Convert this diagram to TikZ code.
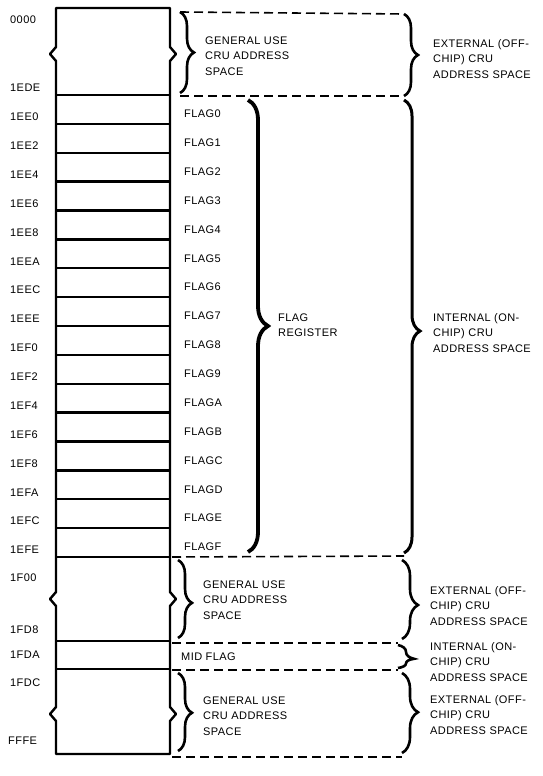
\documentclass[tikz,border=0pt]{standalone}
\usepackage{fontspec}
\setmainfont{Liberation Sans}[LetterSpace=4]
\usetikzlibrary{decorations.pathreplacing}
\tikzset{
  mem/.style={line width=2.4pt, line join=round},
  dashln/.style={line width=1.6pt, dash pattern=on 9pt off 5pt},
  brc/.style={decorate, line width=2.6pt},
  lbl/.style={anchor=west, inner sep=0pt, font=\fontsize{11}{15.5}\selectfont, align=left},
}
\begin{document}
\begin{tikzpicture}[x=1pt,y=-1pt]
\useasboundingbox (0,0) rectangle (542,776);
% memory column outline with break marks
\draw[mem] (56,8) -- (170,8) -- (170,47) -- (176,54) -- (170,61)
  -- (170,592) -- (176,599) -- (170,606) -- (170,707) -- (176,714) -- (170,721)
  -- (170,754) -- (56,754) -- (56,721) -- (50,714) -- (56,707)
  -- (56,606) -- (50,599) -- (56,592) -- (56,61) -- (50,54) -- (56,47) -- cycle;
% row dividers
\foreach \k in {0,...,16} \draw[mem] (56,{95+28.875*\k}) -- (170,{95+28.875*\k});
\draw[mem] (56,641) -- (170,641);
\draw[mem] (56,669) -- (170,669);
% address labels
\node[lbl] (a0000) at (10,20) {0000};
\node[lbl] (a1EDE) at (10,88) {1EDE};
\foreach \a [count=\i from 0] in {1EE0,1EE2,1EE4,1EE6,1EE8,1EEA,1EEC,1EEE,1EF0,1EF2,1EF4,1EF6,1EF8,1EFA,1EFC,1EFE}
  \node[lbl] (ad\i) at (10,{95+28.875*(\i+1)-7}) {\a};
\node[lbl] (a1F00) at (10,578) {1F00};
\node[lbl] (a1FD8) at (10,630) {1FD8};
\node[lbl] (a1FDA) at (10,655) {1FDA};
\node[lbl] (a1FDC) at (10,683) {1FDC};
\node[lbl] (aFFFE) at (8,741) {FFFE};
% flag labels
\foreach \f [count=\i from 0] in {0,1,2,3,4,5,6,7,8,9,A,B,C,D,E,F}
  \node[lbl] (fl\i) at (184,{95+28.875*(\i+1)-10}) {FLAG\f};
\node[lbl] (mid) at (181,657) {MID FLAG};
% brace end coordinates
\coordinate (b1t) at (180,12);   \coordinate (b1b) at (180,93);
\coordinate (b2t) at (404,14);   \coordinate (b2b) at (404,96);
\coordinate (fgt) at (248,100);  \coordinate (fgb) at (248,552);
\coordinate (int) at (404,100);  \coordinate (inb) at (404,553);
\coordinate (c1t) at (178,560);  \coordinate (c1b) at (178,638);
\coordinate (c2t) at (402,560);  \coordinate (c2b) at (402,639);
\coordinate (mt) at (398,645);   \coordinate (mb) at (398,668);
\coordinate (d1t) at (178,673);  \coordinate (d1b) at (178,751);
\coordinate (d2t) at (402,673);  \coordinate (d2b) at (402,753);
\coordinate (l97) at (180,96);
\coordinate (l557a) at (172,557); \coordinate (l557b) at (404,556);
\coordinate (l643a) at (172,643); \coordinate (l643b) at (398,643);
\coordinate (l670a) at (172,670); \coordinate (l670b) at (398,670);
\coordinate (l757a) at (172,757); \coordinate (l757b) at (402,757);
% braces
\draw[brc, decoration={brace, amplitude=14pt, aspect=0.5}] (b1t) -- (b1b);
\draw[brc, decoration={brace, amplitude=14pt, aspect=0.5}] (b2t) -- (b2b);
\draw[brc, line width=3.8pt, decoration={brace, amplitude=20pt, aspect=0.5}] (fgt) -- (fgb);
\draw[brc, line width=3pt, decoration={brace, amplitude=16pt, aspect=0.51}] (int) -- (inb);
\draw[brc, decoration={brace, amplitude=14pt, aspect=0.55}] (c1t) -- (c1b);
\draw[brc, decoration={brace, amplitude=16pt, aspect=0.57}] (c2t) -- (c2b);
\draw[brc, decoration={brace, amplitude=16pt, aspect=0.6}] (mt) -- (mb);
\draw[brc, decoration={brace, amplitude=14pt, aspect=0.51}] (d1t) -- (d1b);
\draw[brc, decoration={brace, amplitude=16pt, aspect=0.49}] (d2t) -- (d2b);
% dashed boundaries
\draw[dashln] (b1t) -- (b2t);
\draw[dashln] (l97) -- (b2b);
\draw[dashln] (l557a) -- (l557b);
\draw[dashln] (l643a) -- (l643b);
\draw[dashln] (l670a) -- (l670b);
\draw[dashln] (l757a) -- (l757b);
% texts
\node[lbl] (g1) at (205,56) {GENERAL USE\\CRU ADDRESS\\SPACE};
\node[lbl] (e1) at (433,59) {EXTERNAL (OFF-\\CHIP) CRU\\ADDRESS SPACE};
\node[lbl] (fr) at (278,325) {FLAG\\REGISTER};
\node[lbl] (i1) at (433,333) {INTERNAL (ON-\\CHIP) CRU\\ADDRESS SPACE};
\node[lbl] (g2) at (203,600) {GENERAL USE\\CRU ADDRESS\\SPACE};
\node[lbl] (e2) at (430,606) {EXTERNAL (OFF-\\CHIP) CRU\\ADDRESS SPACE};
\node[lbl] (i2) at (430,662) {INTERNAL (ON-\\CHIP) CRU\\ADDRESS SPACE};
\node[lbl] (g3) at (203,716) {GENERAL USE\\CRU ADDRESS\\SPACE};
\node[lbl] (e3) at (430,715) {EXTERNAL (OFF-\\CHIP) CRU\\ADDRESS SPACE};
\end{tikzpicture}
\end{document}
